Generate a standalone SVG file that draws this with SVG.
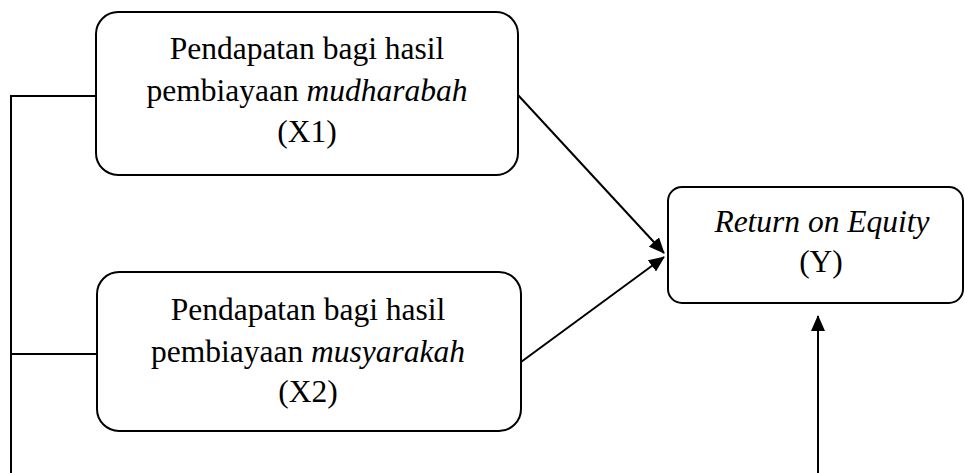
<svg xmlns="http://www.w3.org/2000/svg" width="965" height="473" viewBox="0 0 965 473">
  <style>
    .box { fill: #ffffff; stroke: #000000; stroke-width: 2; }
    .lbl { font-family: "Liberation Serif", "Times New Roman", serif; font-size: 31.5px; fill: #000000; text-anchor: middle; }
    .it { font-style: italic; }
    .wire { fill: none; stroke: #000000; stroke-width: 2; }
    .arrow { fill: none; stroke: #000000; stroke-width: 2; marker-end: url(#head); }
  </style>
  <defs>
    <marker id="head" markerUnits="userSpaceOnUse" markerWidth="16" markerHeight="14" refX="15" refY="7" orient="auto">
      <path d="M0,0 L16,7 L0,14 Z" fill="#000000"/>
    </marker>
  </defs>

  <rect width="965" height="473" fill="#ffffff"/>

  <g id="connectors">
    <!-- shared left bus feeding both inputs -->
    <polyline class="wire" points="96,96 11,96 11,473"/>
    <line class="wire" x1="11" y1="354" x2="97" y2="354"/>
    <!-- X1 -> Y -->
    <line class="arrow" x1="518" y1="95" x2="664" y2="253"/>
    <!-- X2 -> Y -->
    <line class="arrow" x1="521" y1="362" x2="664" y2="257"/>
    <!-- from below -> Y -->
    <line class="arrow" x1="818" y1="473" x2="818" y2="316"/>
  </g>

  <g id="node-x1">
    <rect class="box" x="96" y="12" width="422" height="163" rx="22" ry="22"/>
    <text class="lbl" x="307" y="59">Pendapatan bagi hasil</text>
    <text class="lbl" x="307" y="101">pembiayaan <tspan class="it">mudharabah</tspan></text>
    <text class="lbl" x="307" y="142">(X1)</text>
  </g>

  <g id="node-x2">
    <rect class="box" x="97" y="272" width="424" height="159" rx="22" ry="22"/>
    <text class="lbl" x="308" y="320">Pendapatan bagi hasil</text>
    <text class="lbl" x="308" y="362">pembiayaan <tspan class="it">musyarakah</tspan></text>
    <text class="lbl" x="308" y="402">(X2)</text>
  </g>

  <g id="node-y">
    <rect class="box" x="668" y="187" width="295" height="116" rx="14" ry="14"/>
    <text class="lbl it" x="822" y="232">Return on Equity</text>
    <text class="lbl" x="821" y="272">(Y)</text>
  </g>
</svg>
